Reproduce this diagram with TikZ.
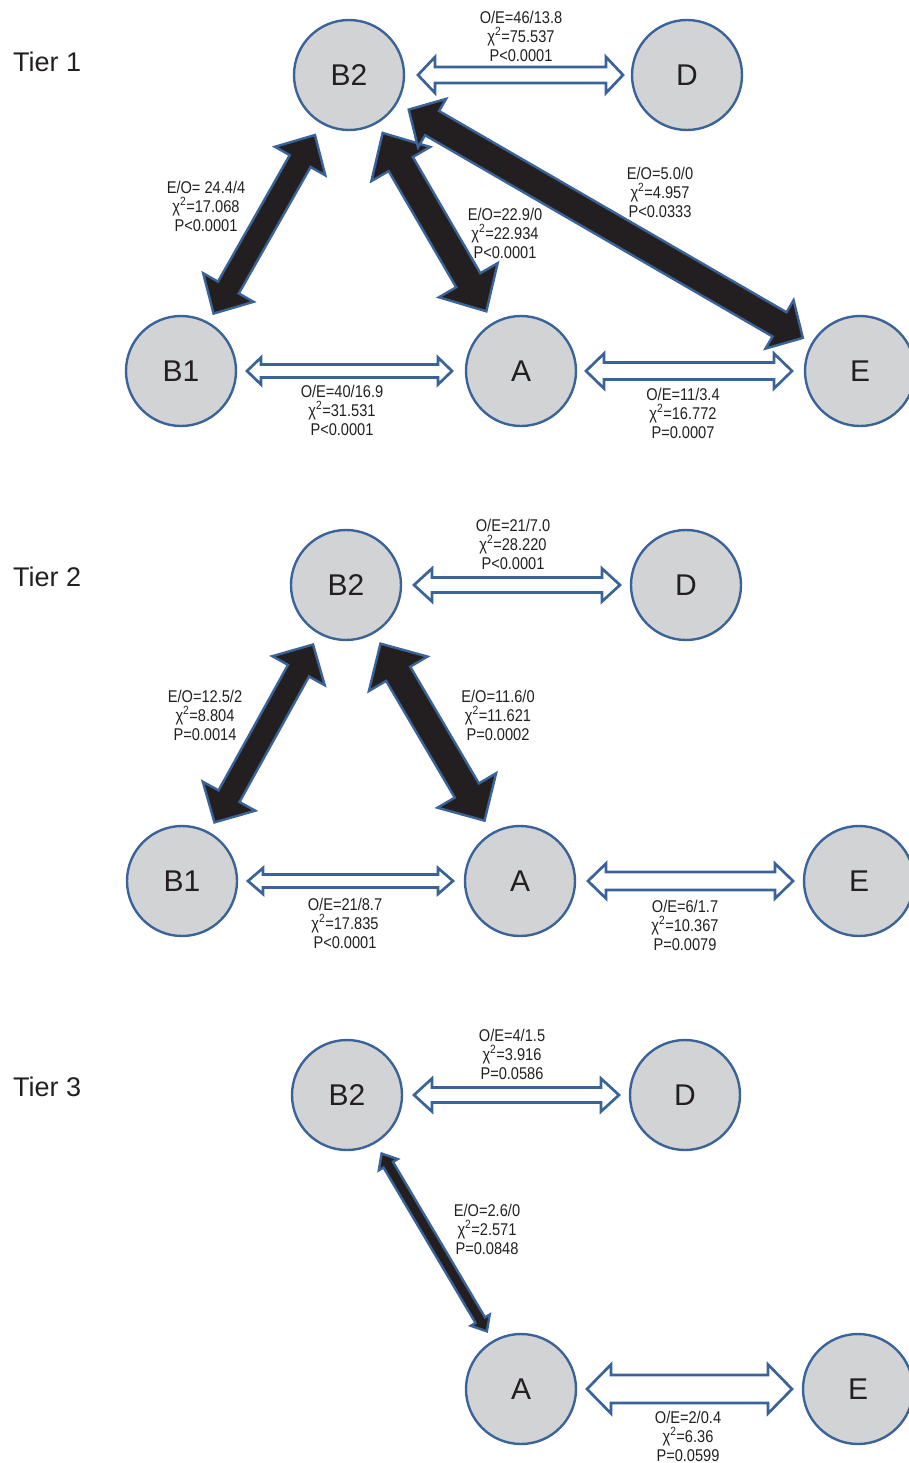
\documentclass[tikz,border=0pt]{standalone}
\usepackage{fontspec}
\setmainfont{Liberation Sans}
\newfontfamily\labfont[FakeStretch=0.86]{Liberation Sans}
\usetikzlibrary{calc}

\definecolor{ringblue}{HTML}{3A6499}
\definecolor{discgray}{HTML}{D2D3D4}
\definecolor{inkdark}{HTML}{231F20}

\tikzset{
  site/.style={circle, draw=ringblue, line width=2.4pt, fill=discgray,
    minimum size=110pt, inner sep=0pt, text=inkdark,
    font=\fontsize{30}{30}\selectfont},
  tierlabel/.style={anchor=west, inner sep=0pt, text=inkdark,
    font=\fontsize{27}{27}\selectfont},
  stat/.style={align=center, inner sep=0pt, text=inkdark,
    font=\labfont\fontsize{17}{19}\selectfont},
  hollow/.style={draw=ringblue, fill=white, line width=2.7pt, line join=miter},
  heavy/.style={draw=ringblue, fill=inkdark, line width=2.4pt, line join=miter},
}

% double-headed block arrow between two nodes
% #1 from, #2 to, #3 gap at from, #4 gap at to,
% #5 shaft half width, #6 head half width, #7 head length, #8 style
\newcommand\linkarrow[8]{%
  \coordinate (t1) at ($(#1.center)!#3pt!(#2.center)$);
  \coordinate (t2) at ($(#2.center)!#4pt!(#1.center)$);
  \coordinate (b1) at ($(t1)!#7pt!(t2)$);
  \coordinate (b2) at ($(t2)!#7pt!(t1)$);
  \draw[#8] (t1) -- ($(b1)!#6pt!90:(t2)$) -- ($(b1)!#5pt!90:(t2)$)
    -- ($(b2)!#5pt!-90:(t1)$) -- ($(b2)!#6pt!-90:(t1)$) -- (t2)
    -- ($(b2)!#6pt!90:(t1)$) -- ($(b2)!#5pt!90:(t1)$)
    -- ($(b1)!#5pt!-90:(t2)$) -- ($(b1)!#6pt!-90:(t2)$) -- cycle;
}

\begin{document}
\begin{tikzpicture}[x=1pt, y=-1pt]
\useasboundingbox (0,0) rectangle (909,1463);

% ---------- Tier 1 ----------
\node[tierlabel] (tier1) at (13,62) {Tier 1};
\node[site] (B2a) at (349,75) {B2};
\node[site] (Da)  at (687,75) {D};
\node[site] (B1a) at (181,371) {B1};
\node[site] (Aa)  at (521,371) {A};
\node[site] (Ea)  at (860,371) {E};

\linkarrow{B2a}{Da}{69}{64}{8}{18}{17}{hollow}
\linkarrow{B1a}{Aa}{66}{69}{6.5}{13.5}{14}{hollow}
\linkarrow{Aa}{Ea}{65}{68}{8.5}{17.5}{18}{hollow}
\linkarrow{B2a}{B1a}{69}{66}{12}{29}{30}{heavy}
\linkarrow{B2a}{Aa}{67}{69}{14}{34}{36}{heavy}
\linkarrow{B2a}{Ea}{69}{66}{14}{28}{27}{heavy}

\node[stat] (s1) at (521,36) {O/E=46/13.8\\χ\textsuperscript{2}=75.537\\P<0.0001};
\node[stat] (s2) at (206,206) {E/O= 24.4/4\\χ\textsuperscript{2}=17.068\\P<0.0001};
\node[stat] (s3) at (505,233) {E/O=22.9/0\\χ\textsuperscript{2}=22.934\\P<0.0001};
\node[stat] (s4) at (660,192) {E/O=5.0/0\\χ\textsuperscript{2}=4.957\\P<0.0333};
\node[stat] (s5) at (342,410) {O/E=40/16.9\\χ\textsuperscript{2}=31.531\\P<0.0001};
\node[stat] (s6) at (683,413) {O/E=11/3.4\\χ\textsuperscript{2}=16.772\\P=0.0007};

% ---------- Tier 2 ----------
\node[tierlabel] (tier2) at (13,577) {Tier 2};
\node[site] (B2b) at (346,585) {B2};
\node[site] (Db)  at (686,585) {D};
\node[site] (B1b) at (182,881) {B1};
\node[site] (Ab)  at (520,881) {A};
\node[site] (Eb)  at (859,881) {E};

\linkarrow{B2b}{Db}{68}{66}{7.5}{16.5}{18}{hollow}
\linkarrow{B1b}{Ab}{66}{67}{6.5}{13}{15}{hollow}
\linkarrow{Ab}{Eb}{68}{66}{9}{17.5}{18}{hollow}
\linkarrow{B2b}{B1b}{68}{67}{12}{30}{30}{heavy}
\linkarrow{B2b}{Ab}{68}{70}{14}{34}{35}{heavy}

\node[stat] (s7)  at (513,544) {O/E=21/7.0\\χ\textsuperscript{2}=28.220\\P<0.0001};
\node[stat] (s8)  at (205,715) {E/O=12.5/2\\χ\textsuperscript{2}=8.804\\P=0.0014};
\node[stat] (s9)  at (498,715) {E/O=11.6/0\\χ\textsuperscript{2}=11.621\\P=0.0002};
\node[stat] (s10) at (345,923) {O/E=21/8.7\\χ\textsuperscript{2}=17.835\\P<0.0001};
\node[stat] (s11) at (685,925) {O/E=6/1.7\\χ\textsuperscript{2}=10.367\\P=0.0079};

% ---------- Tier 3 ----------
\node[tierlabel] (tier3) at (13,1087) {Tier 3};
\node[site] (B2c) at (347,1095) {B2};
\node[site] (Dc)  at (685,1095) {D};
\node[site] (Ac)  at (521,1389) {A};
\node[site] (Ec)  at (858,1389) {E};

\linkarrow{B2c}{Dc}{67}{66}{7.5}{16.5}{18}{hollow}
\linkarrow{Ac}{Ec}{66}{66}{14}{24.5}{24}{hollow}
\linkarrow{B2c}{Ac}{68}{67}{5.5}{11}{13}{heavy}

\node[stat] (s12) at (512,1054) {O/E=4/1.5\\χ\textsuperscript{2}=3.916\\P=0.0586};
\node[stat] (s13) at (487,1229) {E/O=2.6/0\\χ\textsuperscript{2}=2.571\\P=0.0848};
\node[stat] (s14) at (688,1436) {O/E=2/0.4\\χ\textsuperscript{2}=6.36\\P=0.0599};
\end{tikzpicture}
\end{document}
